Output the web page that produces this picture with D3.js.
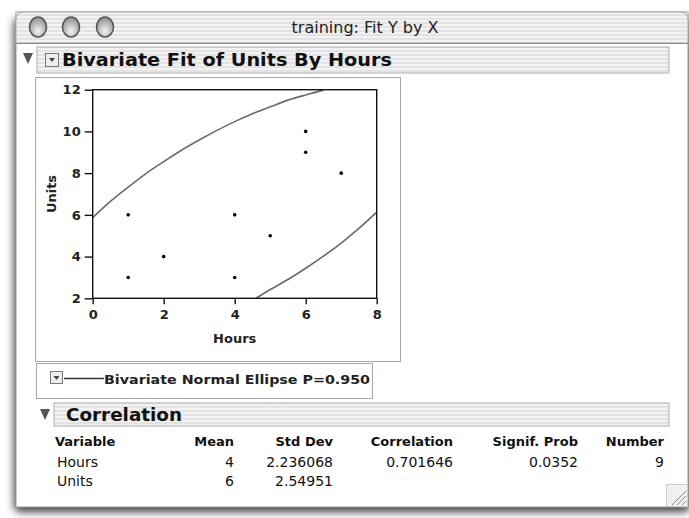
<!DOCTYPE html>
<html>
<head>
<meta charset="utf-8">
<script src="https://cdn.jsdelivr.net/npm/d3@7"></script>
<style>
html,body{margin:0;padding:0;background:#fff;}
svg{display:block;}
</style>
</head>
<body>
<svg id="c" width="689" height="518"></svg>
<script>
// ---- data ----
const hours = [1, 1, 2, 4, 4, 5, 6, 6, 7];
const units = [6, 3, 4, 6, 3, 5, 10, 9, 8];
const xTicks = [0, 2, 4, 6, 8];
const yTicks = [2, 4, 6, 8, 10, 12];
const ellipseUpperX = [0, 0.5, 1, 1.5, 2, 2.5, 3, 3.5, 4, 4.5, 5, 5.5, 6, 6.5];
const ellipseUpperY = [5.87, 6.65, 7.33, 7.98, 8.55, 9.1, 9.59, 10.05, 10.47, 10.85, 11.18, 11.5, 11.75, 11.98];
const ellipseLowerX = [4.6, 5, 5.5, 6, 6.5, 7, 7.5, 8];
const ellipseLowerY = [2.0, 2.42, 2.9, 3.44, 4.02, 4.65, 5.35, 6.13];
const tableHeaders = ["Variable", "Mean", "Std Dev", "Correlation", "Signif. Prob", "Number"];
const rowHours = ["Hours", "4", "2.236068", "0.701646", "0.0352", "9"];
const rowUnits = ["Units", "6", "2.54951", "", "", ""];

const svg = d3.select("#c");
const defs = svg.append("defs");

// pinstripe pattern
const pat = defs.append("pattern").attr("id","stripes").attr("patternUnits","userSpaceOnUse")
  .attr("width",4).attr("height",4);
pat.append("rect").attr("width",4).attr("height",4).attr("fill","#f2f2f2");
pat.append("rect").attr("y",2).attr("width",4).attr("height",2).attr("fill","#e3e3e3");

const blur = defs.append("filter").attr("id","shadow").attr("x","-10%").attr("y","-10%").attr("width","120%").attr("height","120%");
blur.append("feGaussianBlur").attr("stdDeviation",4);

// window shadow
svg.append("rect").attr("x",14).attr("y",18).attr("width",676).attr("height",494)
  .attr("rx",6).attr("fill","#000").attr("opacity",0.75).attr("filter","url(#shadow)");

// window body
svg.append("rect").attr("x",16).attr("y",12).attr("width",672).attr("height",495)
  .attr("fill","#fff").attr("stroke","#9a9a9a").attr("stroke-width",1);

// title bar (rounded top)
const tb = d3.path();
tb.moveTo(16,43); tb.lineTo(16,20); tb.quadraticCurveTo(16,12,24,12);
tb.lineTo(680,12); tb.quadraticCurveTo(688,12,688,20); tb.lineTo(688,43); tb.closePath();
svg.append("path").attr("d",tb.toString()).attr("fill","url(#stripes)").attr("stroke","#a8a8a8");
svg.append("line").attr("x1",16).attr("x2",688).attr("y1",43.5).attr("y2",43.5).attr("stroke","#8a8a8a");

// traffic-light buttons (graphite)
const btnGrad = defs.append("radialGradient").attr("id","btn").attr("cx","50%").attr("cy","70%").attr("r","60%");
btnGrad.append("stop").attr("offset","0%").attr("stop-color","#f4f4f4");
btnGrad.append("stop").attr("offset","100%").attr("stop-color","#9a9a9a");
[38, 71, 105].forEach(cx => {
  svg.append("ellipse").attr("cx",cx).attr("cy",27).attr("rx",8.5).attr("ry",10)
    .attr("fill","url(#btn)").attr("stroke","#555").attr("stroke-width",1.6);
});
svg.append("text").attr("x",365).attr("y",33).attr("text-anchor","middle")
  .attr("font-family","'DejaVu Sans', sans-serif").attr("font-size",16).attr("fill","#222")
  .text("training: Fit Y by X");

// outline header helper
function header(x, y, w, h, label, lx, lw, withBox, triX){
  svg.append("rect").attr("x",x).attr("y",y).attr("width",w).attr("height",h)
    .attr("fill","url(#stripes)").attr("stroke","#b0b0b0");
  svg.append("path").attr("d",`M${triX},${y+6} L${triX+10},${y+6} L${triX+5},${y+17} Z`).attr("fill","#555");
  if(withBox){
    svg.append("rect").attr("x",45.5).attr("y",y+6.5).attr("width",13).attr("height",13)
      .attr("fill","#eee").attr("stroke","#777");
    svg.append("path").attr("d",`M49,${y+11} L55,${y+11} L52,${y+15} Z`).attr("fill","#444");
  }
  svg.append("text").attr("x",lx).attr("y",y+h/2+6).attr("font-family","'DejaVu Sans', sans-serif")
    .attr("font-weight","bold").attr("font-size",17).attr("fill","#111")
    .attr("textLength",lw).attr("lengthAdjust","spacingAndGlyphs").text(label);
}
header(37, 47, 632, 26, "Bivariate Fit of Units By Hours", 62, 330, true, 23);

// plot outline box
svg.append("rect").attr("x",35.5).attr("y",77.5).attr("width",365).attr("height",284)
  .attr("fill","#fff").attr("stroke","#a8a8a8");

// scales
const x = d3.scaleLinear().domain([0,8]).range([92.7,376.7]);
const y = d3.scaleLinear().domain([2,12]).range([298.3,89.7]);

const clip = defs.append("clipPath").attr("id","plotclip");
clip.append("rect").attr("x",x(0)).attr("y",y(12)).attr("width",x(8)-x(0)).attr("height",y(2)-y(12));

const g = svg.append("g");
// ellipse curves
const line = d3.line().x(d=>x(d[0])).y(d=>y(d[1])).curve(d3.curveCatmullRom);
g.append("path").attr("d",line(d3.zip(ellipseUpperX, ellipseUpperY))).attr("fill","none")
  .attr("stroke","#6a6a6a").attr("stroke-width",1.6).attr("clip-path","url(#plotclip)");
g.append("path").attr("d",line(d3.zip(ellipseLowerX, ellipseLowerY))).attr("fill","none")
  .attr("stroke","#6a6a6a").attr("stroke-width",1.6).attr("clip-path","url(#plotclip)");

// frame
g.append("rect").attr("x",x(0)).attr("y",y(12)).attr("width",x(8)-x(0)).attr("height",y(2)-y(12))
  .attr("fill","none").attr("stroke","#111").attr("stroke-width",1.4);

// axes
const axFont = "'DejaVu Sans', sans-serif";
const xAxis = g.append("g").attr("transform",`translate(0,${y(2)})`)
  .call(d3.axisBottom(x).tickValues(xTicks).tickSize(6).tickSizeOuter(0).tickFormat(d3.format("d")));
const yAxis = g.append("g").attr("transform",`translate(${x(0)},0)`)
  .call(d3.axisLeft(y).tickValues(yTicks).tickSize(8).tickSizeOuter(0).tickFormat(d3.format("d")));
[xAxis,yAxis].forEach(a=>{
  a.select(".domain").remove();
  a.selectAll(".tick line").attr("stroke","#111").attr("stroke-width",1.4);
  a.selectAll("text").attr("font-family",axFont).attr("font-size",13).attr("font-weight","bold").attr("fill","#222");
});
xAxis.selectAll("text").attr("dy","0.9em");
yAxis.selectAll("text").attr("dx","-1px");

g.append("text").attr("x",(x(0)+x(8))/2).attr("y",343).attr("text-anchor","middle")
  .attr("font-family",axFont).attr("font-size",13).attr("font-weight","bold").attr("fill","#222").text("Hours");
g.append("text").attr("transform",`translate(56,${(y(2)+y(12))/2}) rotate(-90)`).attr("text-anchor","middle")
  .attr("font-family",axFont).attr("font-size",13).attr("font-weight","bold").attr("fill","#222").text("Units");

// points
g.selectAll("circle.pt").data(d3.zip(hours, units)).join("circle").attr("class","pt")
  .attr("cx",d=>x(d[0])).attr("cy",d=>y(d[1])).attr("r",1.8).attr("fill","#000");

// legend box
svg.append("rect").attr("x",36.5).attr("y",363.5).attr("width",336).attr("height",35)
  .attr("fill","#fff").attr("stroke","#a8a8a8");
svg.append("rect").attr("x",50.5).attr("y",371.5).attr("width",12).attr("height",12)
  .attr("fill","#eee").attr("stroke","#777");
svg.append("path").attr("d","M53.5,376 L59.5,376 L56.5,380 Z").attr("fill","#444");
svg.append("line").attr("x1",64).attr("x2",104).attr("y1",378.5).attr("y2",378.5).attr("stroke","#333").attr("stroke-width",1.3);
svg.append("text").attr("x",104).attr("y",384).attr("font-family",axFont).attr("font-size",13)
  .attr("font-weight","bold").attr("fill","#222").attr("textLength",266).attr("lengthAdjust","spacingAndGlyphs")
  .text("Bivariate Normal Ellipse P=0.950");

// correlation header
header(54, 403, 615, 23, "Correlation", 66, 116, false, 40);

// table
const colRight = [null, 234, 333, 453, 578, 664];
const colLeft = 55;
function row(vals, yy, bold){
  vals.forEach((v,i)=>{
    if(v==="") return;
    const t = svg.append("text").attr("y",yy).attr("font-family",axFont)
      .attr("font-size",bold?13:14).attr("font-weight",bold?"bold":"normal").attr("fill","#111").text(v);
    if(i===0) t.attr("x", bold?colLeft:colLeft+2);
    else t.attr("x",colRight[i]).attr("text-anchor","end");
  });
}
row(tableHeaders, 446, true);
row(rowHours, 467, false);
row(rowUnits, 486, false);

// resize grip
svg.append("rect").attr("x",666.5).attr("y",484.5).attr("width",21).attr("height",22).attr("fill","#f0f0f0").attr("stroke","#ccc");
[0,5,10].forEach(o=>{
  svg.append("line").attr("x1",672+o).attr("y1",505).attr("x2",686).attr("y2",491+o).attr("stroke","#888").attr("stroke-width",1);
});
</script>
</body>
</html>
